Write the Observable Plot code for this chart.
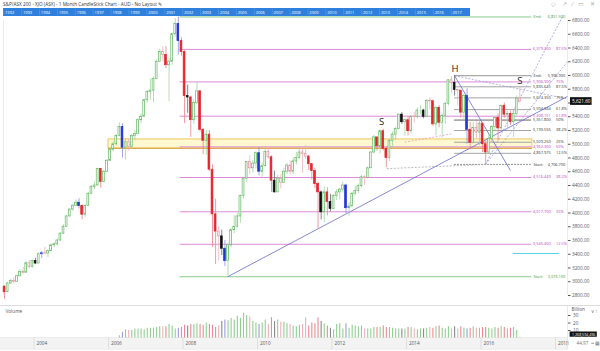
<!DOCTYPE html>
<html><head><meta charset="utf-8">
<script src="https://cdn.jsdelivr.net/npm/d3@7"></script>
<script src="https://cdn.jsdelivr.net/npm/@observablehq/plot@0.6"></script>
<style>
body{margin:0;background:#fff;font-family:"Open Sans",sans-serif;}
#wrap{position:relative;width:600px;height:351px;overflow:hidden;background:#fff;}
#title{position:absolute;left:3px;top:1px;font-size:4.7px;line-height:6px;color:#333;white-space:nowrap;}
#icons{position:absolute;right:3px;top:0px;font-size:6px;line-height:8px;color:#aaa;letter-spacing:2px;}
.p{position:absolute;left:0;}
#sep{position:absolute;left:0;top:305px;width:600px;height:0;border-top:1px solid #ddd;}
</style></head><body><div id="wrap">
<div id="title">S&amp;P/ASX 200 - XJO (ASX) - 1 Month CandleStick Chart - AUD - No Layout &#9998;</div>
<div id="icons">&#9671; &#8599; &#8260; &#9645; &#10005;</div>
<div class="p" id="nav" style="top:8px"></div>
<div class="p" id="main" style="top:16px"></div>
<div id="sep"></div>
<div class="p" id="vol" style="top:306px"></div>
</div>
<script>
// ---------- DATA ----------
const firstMonth = "2003-03";
const firstOpen = 2930;
const closes = [
 2848,2975,3010,3000,3080,3140,3130,3270,3215,3300,
 3265,3400,3415,3410,3445,3530,3545,3600,3700,3800,3950,4050,
 4105,4150,4100,3975,4100,4280,4380,4400,4640,4450,4600,4760,
 4920,5000,5120,5250,4950,5030,4960,5120,5150,5350,5400,5640,
 5760,5780,5950,6200,6340,6300,6150,6200,6600,6750,6500,6340,
 5700,5680,5350,5600,5770,5210,5050,5140,4630,3980,3730,3660,
 3480,3300,3530,3750,3800,3950,4250,4500,4740,4650,4720,4870,
 4600,4680,4890,4810,4470,4300,4500,4440,4600,4690,4600,4750,
 4800,4880,4860,4820,4710,4610,4420,4300,4010,4300,4160,4060,
 4250,4300,4340,4400,4070,4095,4280,4320,4390,4520,4510,4650,
 4880,5100,4970,5190,4930,4800,5050,5140,5220,5430,5320,5350,
 5190,5400,5395,5490,5490,5400,5630,5625,5290,5530,5310,5410,
 5590,5930,5890,5790,5780,5460,5700,5210,5020,5240,5170,5300,
 5000,4880,5080,5250,5380,5230,5560,5430,5440,5320,5440,5665,
 5621.6];
const highs = [
 2935,2990,3040,3060,3100,3180,3210,3290,3310,3310,
 3340,3420,3440,3500,3470,3545,3570,3620,3710,3830,3970,4060,
 4130,4190,4210,4120,4120,4300,4400,4450,4650,4650,4620,4780,
 4940,5040,5140,5310,5300,5080,5080,5140,5200,5370,5440,5660,
 5780,5950,5980,6220,6380,6420,6420,6250,6610,6830,6851.5,6550,
 6360,5860,5700,5650,5900,5780,5230,5200,5200,4700,4200,3800,
 3750,3600,3560,3770,3960,3990,4260,4520,4750,4830,4760,4890,
 4950,4730,4920,4970,4830,4610,4550,4560,4650,4720,4760,4800,
 4880,4970,4940,4980,4840,4720,4650,4450,4320,4380,4370,4270,
 4270,4340,4360,4450,4420,4150,4300,4390,4420,4550,4540,4670,
 4890,5130,5100,5210,5220,4960,5070,5180,5250,5440,5460,5380,
 5400,5420,5460,5530,5560,5510,5650,5680,5640,5550,5560,5440,
 5600,5940,5980,5996.9,5800,5780,5730,5810,5320,5320,5330,5340,
 5300,5050,5140,5270,5400,5440,5565,5600,5480,5480,5480,5700,
 5835];
const lows = [
 2740,2840,2960,2970,2990,3070,3110,3130,3190,3200,
 3250,3260,3340,3390,3350,3440,3490,3520,3590,3690,3790,3940,
 4030,4100,4060,3900,3940,4100,4270,4340,4390,4360,4440,4590,
 4750,4890,4970,5110,4800,4770,4900,4940,5050,5140,5300,5390,
 5600,5640,5600,5940,6190,6200,6100,5620,6150,6560,6300,6280,
 5300,5450,5100,5290,5580,5180,4850,4840,4600,3500,3250,3300,
 3380,3220,3073.1,3500,3700,3780,3850,4200,4450,4560,4580,4640,
 4540,4520,4680,4780,4300,4290,4310,4350,4440,4560,4560,4560,
 4700,4780,4580,4780,4620,4480,4360,3765,3900,3860,3960,4020,
 4050,4180,4190,4290,3990,3950,4100,4250,4280,4370,4400,4500,
 4650,4860,4900,4860,4900,4657,4750,4950,5060,5210,5290,5120,
 5120,5150,5310,5370,5430,5370,5400,5500,5260,5120,5240,5090,
 5290,5560,5740,5700,5560,5380,5340,5000,4920,5000,5080,4980,
 4880,4706.7,4860,5020,5200,5050,5200,5380,5210,5270,5100,5410,
 5600];
const blueMonths = ["2004-03","2005-03","2006-05","2007-11","2009-02","2010-01","2012-05","2015-08"];
const blackMonths = ["2004-01","2008-02","2009-01","2010-06","2011-09","2011-12","2013-11","2014-06","2015-04"];

const volFirstMonth = "2006-04";
const volumes = [
 3,7.5,11,10,10,12,12,12,11,
 13,13,13,14,15,15,15,18,16,12,13,14,
 17,16,18,18,19,18,17,20,18,17,14,16,
 22,24,23,26,24,29,26,33,30,28,22,20,
 18,20,24,18,27,22,24,21,21,19,18,16,
 15,17,18,27,16,20,19,27,22,19,16,13,
 11,18,19,12,19,13,17,16,15,16,12,12,
 12,14,14,14,16,14,14,13,12,12,12,12,
 14,14,12,11,12,12,13,14,13,15,16,13,
 12,15,12,15,12,15,13,12,13,15,13,13,
 14,14,13,12,14,13,15,14,12,13,14,10,
 1];

// Fibonacci retracement 2009 low -> 2007 high (magenta)
const fibStart = 3073.1, fibEnd = 6851.5;
const fibVals = [3545.4, 4017.7, 4516.449, 4962.3, 5408.151, 5906.9, 6379.2];
const fibPcts = ["12.5%","25%","38.2%","50%","61.8%","75%","87.5%"];
// Fibonacci retracement 2016 low -> 2015 high (grey)
const hsStart = 4706.7, hsEnd = 5996.9;
const hsVals = [4867.975, 5029.25, 5199.556, 5351.8, 5504.044, 5674.35, 5835.625];
const hsPcts = ["12.5%","25%","38.2%","50%","61.8%","75%","87.5%"];
const lastPrice = 5621.6;
const zoneLow = 4940, zoneHigh = 5070;
const cyanLevel = 3411;

const priceTicks = [2800,3000,3200,3400,3600,3800,4000,4200,4400,4600,4800,5000,5200,5400,5600,5800,6000,6200,6400,6600,6800];
const volTicks = [10,20,30];
const yearTicks = [2004,2006,2008,2010,2012,2014,2016,2018];
const navYears = [1992,1993,1994,1995,1996,1997,1998,1999,2000,2001,2002,2003,2004,2005,2006,2007,2008,2009,2010,2011,2012,2013,2014,2015,2016,2017];

// trend lines (decimal year, price)
const trendLines = [
 {x1:2009.2, y1:3073.1, x2:2018.32, y2:5695, dash:false},
 {x1:2015.29, y1:5996.9, x2:2016.79, y2:4618, dash:false},
 {x1:2015.29, y1:5996.9, x2:2018.32, y2:5660, dash:true},
 {x1:2016.12, y1:4706.7, x2:2018.19, y2:6858, dash:true},
 {x1:2016.12, y1:4706.7, x2:2018.32, y2:6200, dash:true}
];
const neckLines = [
 {x1:2013.95, y1:5030, x2:2015.2, y2:5150, c:"#e6a0c8"},
 {x1:2013.47, y1:4645, x2:2016.12, y2:4706.7, c:"#aaaaaa"}
];
const patternLabels = [
 {label:"S", x:2013.33, y:5331},
 {label:"H", x:2015.3, y:6102},
 {label:"S", x:2017.04, y:5927}
];

// ---------- BUILD ----------
function monthInfo(first, i){
  const [y0,m0] = first.split("-").map(Number);
  const k = y0*12 + (m0-1) + i;
  const y = Math.floor(k/12), m = k%12;
  return {key: `${y}-${String(m+1).padStart(2,"0")}`, t: y + m/12 + 1/24};
}
const candles = closes.map((c,i)=>{
  const {key,t} = monthInfo(firstMonth,i);
  const open = i ? closes[i-1] : firstOpen;
  const high = Math.max(highs[i],open,c), low = Math.min(lows[i],open,c);
  const cat = blueMonths.includes(key) ? "blue" : blackMonths.includes(key) ? "black"
    : c >= open ? "up" : (open-c)/open < 0.02 ? "pink" : "down";
  return {key,t,open,close:c,high,low,cat,down:c<open};
});
const catByKey = new Map(candles.map(d=>[d.key,d.cat]));
const strokeC = {up:"#62b862", down:"#e3262d", pink:"#e890a0", blue:"#2436d6", black:"#111111"};
const wickC = {up:"#9fd49f", down:"#ee8088", pink:"#f0b0bc", blue:"#8a90e8", black:"#666666"};
const volC = {up:"#8fcf8f", down:"#e88a90", pink:"#eeb0b8", blue:"#9a9ae0", black:"#888888"};
const fillOf = d => d.cat==="down" ? strokeC.down : (d.cat==="blue"||d.cat==="black") && d.down ? strokeC[d.cat] : "white";

const vols = volumes.map((v,i)=>{ const {key,t}=monthInfo(volFirstMonth,i); return {t,v,cat:catByKey.get(key)||"up"}; });

const xMin = 2003.181, xMax = 2018.322;
const fibX1 = 2007.92, hsX1 = 2015.29, lineX2 = 2017.36, labA = 2017.41, labB = 2018.03, labC = 2017.79;
const fmt3 = d3.format(",.3f");
const fs = 4.7, lfs = 3.9;
const style = {background:"transparent", fontFamily:"Open Sans, sans-serif", fontSize:`${fs}px`, overflow:"visible"};
// small vertical nudges where two label rows sit closer than a text line
const nudgeFib = v => v===5408.151 ? -0.9 : v===4962.3 ? 0.6 : 0;
const nudgeHs = v => v===5351.8 ? 0.9 : v===5029.25 ? -0.6 : 0;

// nav bar
const nav = Plot.plot({
  width:600, height:8, marginLeft:3, marginRight:130, marginTop:0, marginBottom:0,
  x:{domain:[1991.94,2018.03], axis:null}, y:{domain:[0,1], axis:null}, style,
  marks:[
    Plot.rect([0],{x1:1991.94,x2:2018.03,y1:0,y2:1,fill:"#2f7fdc"}),
    Plot.ruleX(navYears,{x:d=>d-0.05,y1:0.1,y2:0.9,stroke:"#bcd6f6",strokeWidth:0.4,strokeDasharray:"0.6,0.6"}),
    Plot.text(navYears,{x:d=>d,y:0.5,text:d=>String(d),textAnchor:"start",dx:0.5,fill:"white",fontSize:4})
  ]
});
document.getElementById("nav").appendChild(nav);

// main price chart
const main = Plot.plot({
  width:600, height:290, marginLeft:3, marginRight:33, marginTop:4, marginBottom:11,
  x:{domain:[xMin,xMax], axis:null},
  y:{domain:[2800,6800]},
  style,
  marks:[
    Plot.ruleX([xMin,xMax],{stroke:"#e2e2e2",strokeWidth:0.7}),
    // support zone
    Plot.rect([0],{x1:2006.0,x2:2017.38,y1:zoneLow,y2:zoneHigh,fill:"#fff6c0",fillOpacity:0.75,stroke:"#eec050",strokeWidth:0.9}),
    Plot.ruleY([zoneLow],{x1:2006.0,x2:2017.38,stroke:"#d49a3a",strokeWidth:0.9}),
    // magenta fib
    Plot.ruleY(fibVals,{x1:fibX1,x2:lineX2,stroke:"#dc8ad8",strokeWidth:1}),
    Plot.ruleY([fibStart,fibEnd],{x1:fibX1,x2:lineX2,stroke:"#7cc47c",strokeWidth:0.9}),
    // grey fib
    Plot.ruleY(hsVals,{x1:hsX1,x2:lineX2,stroke:d=>d===5351.8?"#555":"#9a9a9a",strokeWidth:0.9}),
    Plot.ruleY([hsEnd],{x1:hsX1,x2:lineX2,stroke:"#888",strokeWidth:0.9}),
    Plot.ruleY([hsStart],{x1:hsX1,x2:lineX2,stroke:"#888",strokeWidth:0.9,strokeDasharray:"2,1"}),
    // cyan level
    Plot.ruleY([cyanLevel],{x1:2016.87,x2:2018.11,stroke:"#5fd3e3",strokeWidth:1}),
    // neck/dashed lines
    Plot.link(neckLines,{x1:"x1",y1:"y1",x2:"x2",y2:"y2",stroke:"c",strokeWidth:0.8,strokeDasharray:"2,1.5"}),
    // trend lines
    Plot.link(trendLines.filter(d=>!d.dash),{x1:"x1",y1:"y1",x2:"x2",y2:"y2",stroke:"#6a6ad0",strokeWidth:0.8}),
    Plot.link(trendLines.filter(d=>d.dash),{x1:"x1",y1:"y1",x2:"x2",y2:"y2",stroke:"#9a9ae0",strokeWidth:0.8,strokeDasharray:"2,1.5"}),
    // candles
    Plot.ruleX(candles,{x:"t",y1:"low",y2:"high",stroke:d=>wickC[d.cat],strokeWidth:0.8}),
    Plot.rect(candles,{x1:d=>d.t-0.024,x2:d=>d.t+0.024,y1:"open",y2:"close",fill:fillOf,stroke:d=>strokeC[d.cat],strokeWidth:0.7}),
    // fib labels
    Plot.text(fibVals,{x:labA,y:d=>d,dy:nudgeFib,text:d=>fmt3(d),textAnchor:"start",fill:"#c040c0",fontSize:lfs}),
    Plot.text(fibVals,{x:labB,y:d=>d,dy:nudgeFib,text:(d,i)=>fibPcts[i],textAnchor:"start",fill:"#c040c0",fontSize:lfs}),
    Plot.text([fibEnd,fibStart],{x:labA,y:d=>d,text:(d,i)=>i?"Start:":"End:",textAnchor:"start",fill:"#3a9a3a",fontSize:lfs}),
    Plot.text([fibEnd,fibStart],{x:labC,y:d=>d,text:d=>fmt3(d),textAnchor:"start",fill:"#3a9a3a",fontSize:lfs}),
    Plot.text(hsVals,{x:labA,y:d=>d,dy:nudgeHs,text:d=>fmt3(d),textAnchor:"start",fill:"#333",fontSize:lfs}),
    Plot.text(hsVals,{x:labB,y:d=>d,dy:nudgeHs,text:(d,i)=>hsPcts[i],textAnchor:"start",fill:"#333",fontSize:lfs}),
    Plot.text([hsEnd,hsStart],{x:labA,y:d=>d,text:(d,i)=>i?"Start:":"End:",textAnchor:"start",fill:"#333",fontSize:lfs}),
    Plot.text([hsEnd,hsStart],{x:labC,y:d=>d,text:d=>fmt3(d),textAnchor:"start",fill:"#333",fontSize:lfs}),
    // pattern labels
    Plot.text(patternLabels,{x:"x",y:"y",text:"label",fill:"#222",fontSize:9.5}),
    // right axis
    Plot.axisY({anchor:"right",ticks:priceTicks,tickFormat:d=>d.toFixed(2),tickSize:2.5,tickPadding:2,fontSize:fs,color:"#555"}),
    // last price box
    Plot.rect([lastPrice],{x1:xMax+0.08,x2:xMax+0.66,y1:d=>d-56,y2:d=>d+56,fill:"#111"}),
    Plot.text([lastPrice],{x:xMax+0.37,y:d=>d,text:d=>d3.format(",.2f")(d),fill:"white",fontSize:fs})
  ]
});
document.getElementById("main").appendChild(main);

// volume + time axis
const vol = Plot.plot({
  width:600, height:45, marginLeft:3, marginRight:33, marginTop:0, marginBottom:0,
  x:{domain:[xMin,xMax], axis:null},
  y:{domain:[-18,42]},
  style,
  marks:[
    Plot.rect([0],{x1:xMin-0.1,x2:xMax,y1:-15.5,y2:0,fill:"#f3f3f3",stroke:"#e0e0e0",strokeWidth:0.5}),
    Plot.ruleX(yearTicks,{y1:-15.5,y2:0,stroke:"#d6d6d6",strokeWidth:0.7}),
    Plot.text(yearTicks,{x:d=>d,y:-7.5,text:d=>String(d),textAnchor:"start",dx:2.5,fill:"#555",fontSize:fs}),
    Plot.ruleX([xMax],{y1:-15.5,y2:42,stroke:"#e0e0e0",strokeWidth:0.7}),
    Plot.ruleX(vols,{x:"t",y1:0,y2:"v",stroke:d=>volC[d.cat],strokeWidth:1.1}),
    Plot.text(["Volume"],{frameAnchor:"top-left",dx:2,dy:3,fill:"#555",fontSize:fs}),
    Plot.axisY({anchor:"right",ticks:volTicks,tickFormat:d=>String(d),tickSize:2.5,tickPadding:3,fontSize:fs,color:"#555"}),
    Plot.text(["Billion"],{x:xMax,y:37.5,dx:4,textAnchor:"start",fill:"#555",fontSize:fs}),
    Plot.rect([0],{x1:xMax+0.07,x2:xMax+0.8,y1:1,y2:8,fill:"#111"}),
    Plot.text(["1,268,594,496"],{x:xMax+0.435,y:4.5,fill:"white",fontSize:3.6}),
    Plot.text(["44.97  \u221e \u25a6"],{x:xMax,y:-7.5,dx:9,textAnchor:"start",fill:"#777",fontSize:fs})
  ]
});
document.getElementById("vol").appendChild(vol);
</script>
</body></html>
